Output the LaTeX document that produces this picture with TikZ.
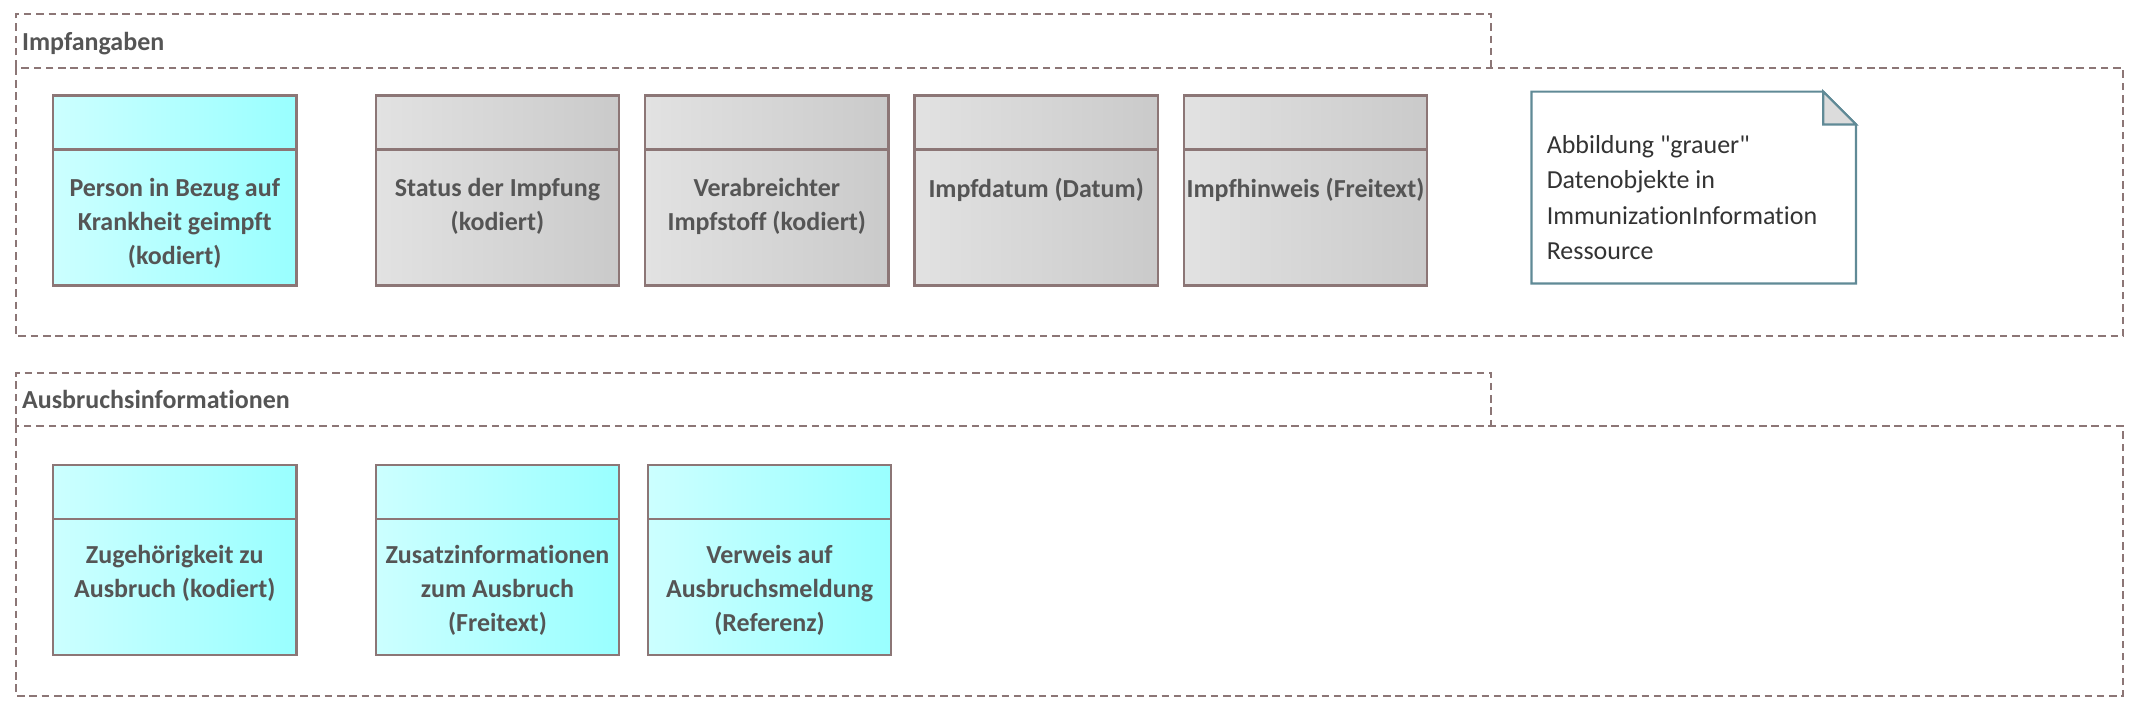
\documentclass[tikz,border=0pt]{standalone}
\usepackage{fontspec}
\setmainfont{Carlito}[Ligatures={NoCommon}]
\usetikzlibrary{positioning}

\definecolor{framec}{RGB}{140,118,118}
\definecolor{cyanL}{RGB}{204,255,255}
\definecolor{cyanR}{RGB}{153,255,255}
\definecolor{grayL}{RGB}{226,226,226}
\definecolor{grayR}{RGB}{202,202,202}
\definecolor{notec}{RGB}{96,138,150}
\definecolor{foldc}{RGB}{220,220,220}
\definecolor{textc}{RGB}{85,85,85}

\begin{document}
\begin{tikzpicture}[x=1pt, y=-1pt,
	grp/.style={draw=framec, line width=1.4pt, dash pattern=on 5.5pt off 3.5pt},
	grptitle/.style={anchor=base west, inner sep=0pt, text=textc, font=\fontsize{19}{24}\bfseries\selectfont},
	obj/.style={rectangle, draw=framec, line width=1.6pt, anchor=north west, minimum width=178pt, minimum height=139pt,
		path picture={\draw[objline] ([yshift=-39.5pt]path picture bounding box.north west) -- ([yshift=-39.5pt]path picture bounding box.north east);}},
	cyanobj/.style={obj, left color=cyanL, right color=cyanR},
	grayobj/.style={obj, left color=grayL, right color=grayR},
	objline/.style={draw=framec, line width=1.6pt},
	objtext/.style={inner sep=0pt, align=center, text=textc, font=\fontsize{19}{25}\bfseries\selectfont},
	noteline/.style={draw=notec, line width=1.6pt},
	notetext/.style={anchor=north west, inner sep=0pt, align=left, text=black!80, font=\fontsize{19}{25.8}\selectfont}
]
\useasboundingbox (0,0) rectangle (1568,524);

% Impfangaben
\draw[grp] (12,49.5) |- (1090.5,10) -- (1090.5,49.5);
\draw[grp] (12,49.5) rectangle (1552.5,246);
\node[grptitle](t1) at(16,36.6) {Impfangaben};

\node[cyanobj](a1) at(38,69) {};
\foreach \n/\x in {a2/274, a3/471, a4/668, a5/865}{
	\node[grayobj](\n) at(\x,69) {};
}

\node[objtext, below=61pt of a1.north](ta1) {Person in Bezug auf\\Krankheit geimpft\\(kodiert)};
\node[objtext, below=61pt of a2.north](ta2) {Status der Impfung\\(kodiert)};
\node[objtext, below=61pt of a3.north](ta3) {Verabreichter\\Impfstoff (kodiert)};
\node[objtext, below=61pt of a4.north](ta4) {Impfdatum (Datum)};
\node[objtext, below=61pt of a5.north](ta5) {Impfhinweis (Freitext)};

\node[anchor=north west, minimum width=237pt, minimum height=140pt](note) at(1120,67) {};
\coordinate(fold) at([xshift=-24pt]note.north east);
\coordinate(foldb) at([yshift=-24pt]note.north east);
\draw[noteline, fill=white] (note.north west) -- (fold) -- (foldb) -- (note.south east) -- (note.south west) -- cycle;
\draw[noteline, fill=foldc] (fold) |- (foldb) -- cycle;
\node[notetext](nt) at(1131,99) {Abbildung \textquotedbl grauer\textquotedbl\\Datenobjekte in\\ImmunizationInformation\\Ressource};

% Ausbruchsinformationen
\draw[grp] (12,311.5) |- (1090.5,272.5) -- (1090.5,311.5);
\draw[grp] (12,311.5) rectangle (1552.5,509);
\node[grptitle](t2) at(16,298.6) {Ausbruchsinformationen};

\foreach \n/\x in {b1/38, b2/274, b3/473}{
	\node[cyanobj](\n) at(\x,339.5) {};
}

\node[objtext, below=59pt of b1.north](tb1) {Zugehörigkeit zu\\Ausbruch (kodiert)};
\node[objtext, below=59pt of b2.north](tb2) {Zusatzinformationen\\zum Ausbruch\\(Freitext)};
\node[objtext, below=59pt of b3.north](tb3) {Verweis auf\\Ausbruchsmeldung\\(Referenz)};

\end{tikzpicture}
\end{document}
